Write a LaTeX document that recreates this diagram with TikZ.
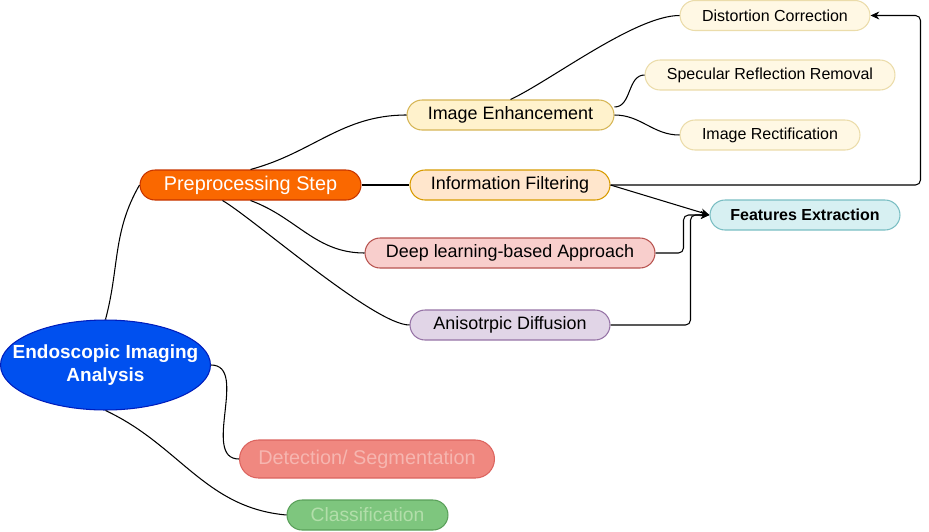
\documentclass[tikz,border=0pt]{standalone}
\usepackage{fontspec}
\setmainfont{Liberation Sans}
\usepackage{tikz}
\usetikzlibrary{arrows.meta,shapes,positioning}
\definecolor{rootfill}{HTML}{0050EF}
\definecolor{rootline}{HTML}{001DBC}
\definecolor{prefill}{HTML}{FA6800}
\definecolor{preline}{HTML}{C73500}
\definecolor{enhfill}{HTML}{FFF2CC}
\definecolor{enhline}{HTML}{D6B656}
\definecolor{inffill}{HTML}{FFE6CC}
\definecolor{infline}{HTML}{D79B00}
\definecolor{deepfill}{HTML}{F8CECC}
\definecolor{deepline}{HTML}{B85450}
\definecolor{anifill}{HTML}{E1D5E7}
\definecolor{aniline}{HTML}{9673A6}
\definecolor{subfill}{HTML}{FFF8E4}
\definecolor{subline}{HTML}{EBDCAA}
\definecolor{featfill}{HTML}{D7F0F2}
\definecolor{featline}{HTML}{7ABEC3}
\definecolor{detfill}{HTML}{F08880}
\definecolor{detline}{HTML}{DC645F}
\definecolor{dettext}{HTML}{F6B6B0}
\definecolor{clsfill}{HTML}{7EC67E}
\definecolor{clsline}{HTML}{5AA05A}
\definecolor{clstext}{HTML}{B2DEAA}

\begin{document}
\begin{tikzpicture}[x=0.02cm,y=-0.02cm,
    box/.style={draw,rounded corners=0.3cm,minimum height=0.6cm,inner sep=0pt,line width=0.6pt},
    big/.style={font=\fontsize{11.3}{13}\selectfont},
    mid/.style={font=\fontsize{10.2}{12}\selectfont},
    small/.style={font=\fontsize{9.1}{11}\selectfont},
    link/.style={line width=0.6pt},
    arr/.style={link,-{Stealth[length=5pt,width=4.5pt]},rounded corners=0.1cm}]
    \useasboundingbox (0,0) rectangle (929,531);

    \node[ellipse,draw=rootline,fill=rootfill,line width=0.6pt,minimum width=4.2cm,minimum height=1.8cm,inner xsep=-0.4cm,inner ysep=0pt,
        align=center,text=white,font=\fontsize{10.8}{13}\selectfont\bfseries] (root) at (105.5,365) {Endoscopic Imaging\\Analysis};
    \node[box,big,fill=prefill,draw=preline,text=white,minimum width=4.42cm] (pre) at (250.5,185) {Preprocessing Step};

    \node[box,mid,fill=enhfill,draw=enhline,minimum width=4.14cm] (enh) at (510.5,115) {Image Enhancement};
    \node[box,mid,fill=inffill,draw=infline,minimum width=4cm] (inf) at (510,185) {Information Filtering};
    \node[box,mid,fill=deepfill,draw=deepline,minimum width=5.8cm] (deep) at (510,253) {Deep learning-based Approach};
    \node[box,mid,fill=anifill,draw=aniline,minimum width=4cm] (aniso) at (510,325) {Anisotrpic Diffusion};

    \node[box,small,fill=subfill,draw=subline,minimum width=3.8cm] (dist) at (775,15.5) {Distortion Correction};
    \node[box,small,fill=subfill,draw=subline,minimum width=5cm] (spec) at (770,75) {Specular Reflection Removal};
    \node[box,small,fill=subfill,draw=subline,minimum width=3.6cm] (rect) at (770,135) {Image Rectification};
    \node[box,small,fill=featfill,draw=featline,minimum width=3.8cm,font=\fontsize{9.1}{11}\selectfont\bfseries] (feat) at (805,215) {Features Extraction};

    \node[box,big,fill=detfill,draw=detline,text=dettext,minimum width=5.1cm,minimum height=0.76cm,rounded corners=0.38cm] (det) at (367,459) {Detection/ Segmentation};
    \node[box,fill=clsfill,draw=clsline,text=clstext,minimum width=3.22cm,font=\fontsize{11}{13}\selectfont] (cls) at (367.5,515) {Classification};

    \draw[link] (root.north) to[out=75,in=240] (pre.west);
    \draw[link] (root.east) to[out=0,in=180] (det.west);
    \draw[link] (root.south) to[out=-25,in=175] (cls.west);

    \draw[link] (pre.north) to[out=15,in=180] (enh.west);
    \draw[link] (pre.east) -- (inf.west);
    \draw[link] (pre.south) to[out=-20,in=180] (deep.west);
    \draw[link] ([xshift=-0.56cm]pre.south) to[out=-30,in=180,looseness=0.4] (aniso.west);

    \draw[link] (enh.north) to[out=25,in=180,looseness=0.6] (dist.west);
    \draw[link] ([yshift=0.16cm]enh.east) to[out=0,in=180] (spec.west);
    \draw[link] (enh.east) to[out=0,in=180] (rect.west);

    \draw[arr] (inf.east) -- ++(310,0) |- (dist.east);
    \draw[arr] (inf.east) -- (feat.west);
    \draw[arr] (deep.east) -- ++(28,0) |- (feat.west);
    \draw[arr] (aniso.east) -- ++(80,0) |- (feat.west);
\end{tikzpicture}
\end{document}
